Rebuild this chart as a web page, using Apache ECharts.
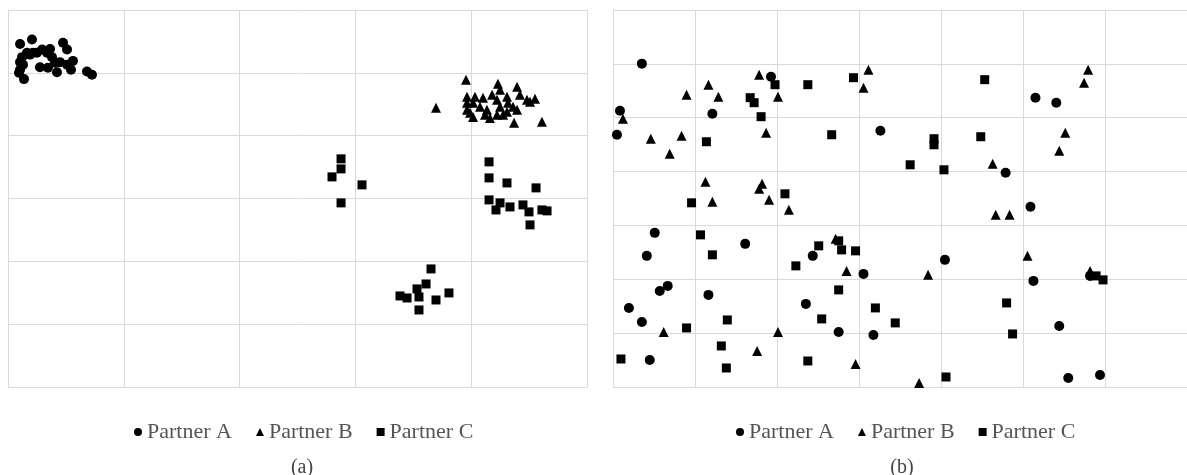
<!DOCTYPE html>
<html>
<head>
<meta charset="utf-8">
<script src="https://cdn.jsdelivr.net/npm/echarts@6/dist/echarts.min.js"></script>
<style>
  html, body { margin: 0; padding: 0; background: #fff; }
  #chart { width: 1187px; height: 475px; }
</style>
</head>
<body>
<div id="chart"></div>
<script>
// panel (a) - clustered partners
var aPartnerA = [
  [0.104,5.46],[0.207,5.53],[0.475,5.48],[0.51,5.37],[0.164,5.32],[0.216,5.32],[0.294,5.37],
  [0.363,5.38],[0.121,5.25],[0.104,5.17],[0.276,5.09],[0.345,5.08],[0.423,5.01],[0.449,5.17],
  [0.51,5.13],[0.561,5.19],[0.544,5.05],[0.104,5.05],[0.095,5.00],[0.138,4.90],[0.682,5.02],
  [0.725,4.97],[0.38,5.25],[0.406,5.16],[0.337,5.32],[0.25,5.32],[0.19,5.29],[0.13,5.13]
];
var aPartnerB = [
  [3.955,4.889],[3.696,4.443],[4.231,4.825],[4.249,4.729],[4.396,4.777],[4.421,4.650],[4.180,4.650],
  [4.102,4.602],[4.033,4.618],[3.964,4.618],[3.964,4.522],[3.964,4.411],[4.016,4.522],[4.076,4.459],
  [4.136,4.411],[4.223,4.570],[4.309,4.618],[4.318,4.522],[4.249,4.459],[4.361,4.459],[4.482,4.570],
  [4.551,4.586],[4.508,4.538],[4.016,4.299],[4.162,4.283],[4.223,4.331],[4.309,4.379],[4.396,4.411],
  [4.370,4.204],[4.611,4.220],[3.990,4.363],[4.119,4.331],[4.275,4.331]
];
var aPartnerC = [
  [2.876,3.631],[2.876,3.471],[2.798,3.344],[3.057,3.217],[2.876,2.930],
  [4.154,3.583],[4.154,3.328],[4.309,3.248],[4.560,3.169],[4.154,2.978],[4.249,2.930],[4.214,2.818],
  [4.335,2.866],[4.447,2.898],[4.499,2.787],[4.611,2.818],[4.655,2.803],[4.508,2.580],
  [3.653,1.879],[3.610,1.640],[3.532,1.561],[3.385,1.449],[3.446,1.417],[3.549,1.433],[3.696,1.385],
  [3.808,1.497],[3.549,1.226]
];

// panel (b) - scattered partners
var bPartnerA = [
  [0.352,6.004],[0.085,5.130],[0.048,4.684],[1.212,5.074],[1.927,5.762],[3.261,4.758],[5.152,5.372],
  [5.406,5.279],[4.788,3.978],[0.509,2.862],[1.612,2.658],[0.412,2.435],[2.436,2.435],[3.055,2.100],
  [0.667,1.877],[0.570,1.784],[1.164,1.710],[0.194,1.468],[0.352,1.208],[2.352,1.543],[2.752,1.022],
  [3.176,0.967],[0.448,0.502],[5.091,3.346],[4.048,2.361],[5.127,1.970],[5.818,2.063],[5.442,1.134],
  [5.552,0.167],[5.939,0.223]
];
var bPartnerB = [
  [0.121,4.981],[0.461,4.610],[0.836,4.665],[0.691,4.331],[0.897,5.428],[1.164,5.613],[1.285,5.390],
  [1.782,5.799],[2.012,5.390],[1.867,4.721],[3.115,5.892],[3.055,5.558],[1.127,3.810],[1.818,3.773],
  [1.782,3.680],[5.794,5.892],[5.745,5.651],[5.515,4.721],[5.442,4.387],[4.630,4.145],[1.212,3.439],
  [1.903,3.476],[2.145,3.290],[2.715,2.751],[2.848,2.156],[0.618,1.022],[2.012,1.022],[1.758,0.669],
  [2.958,0.428],[4.667,3.197],[4.836,3.197],[3.842,2.082],[5.055,2.435],[5.818,2.156],[3.733,0.074]
];
var bPartnerC = [
  [1.139,4.554],[1.976,5.613],[1.673,5.372],[1.721,5.279],[1.806,5.019],[2.376,5.613],[2.667,4.684],
  [2.933,5.743],[2.097,3.587],[4.533,5.706],[3.915,4.610],[3.915,4.498],[4.485,4.647],[3.624,4.126],
  [4.036,4.033],[0.958,3.420],[1.067,2.825],[1.212,2.454],[2.230,2.249],[2.509,2.621],[2.752,2.714],
  [2.788,2.546],[2.958,2.528],[1.394,1.245],[0.897,1.097],[2.545,1.264],[2.752,1.803],[3.200,1.468],
  [1.321,0.762],[0.097,0.520],[1.382,0.353],[2.376,0.483],[5.891,2.063],[5.976,1.989],[4.800,1.561],
  [3.442,1.190],[4.873,0.985],[4.061,0.186]
];

var partnerNames = ['Partner A', 'Partner B', 'Partner C'];
var panelLabels = ['(a)', '(b)'];

var gridColor = '#d9d9d9';
var serif = '"Liberation Serif", "DejaVu Serif", serif';

function makeAxis(gridIndex, max) {
  return {
    type: 'value', gridIndex: gridIndex, min: 0, max: max, interval: 1,
    axisLine: { show: true, lineStyle: { color: gridColor } },
    axisTick: { show: false },
    axisLabel: { show: false },
    splitLine: { show: true, lineStyle: { color: gridColor, width: 1 } }
  };
}

function makeSeries(name, data, idx, symbol, size) {
  return {
    name: name, type: 'scatter', xAxisIndex: idx, yAxisIndex: idx,
    data: data, symbol: symbol, symbolSize: size,
    itemStyle: { color: '#000', opacity: 1 }, silent: true
  };
}

var chart = echarts.init(document.getElementById('chart'));
var legendText = { fontFamily: serif, fontSize: 22, color: '#555' };
var option = {
  animation: false,
  backgroundColor: '#fff',
  title: [
    { text: panelLabels[0], left: 297, top: 453, textAlign: 'center',
      textStyle: { fontFamily: serif, fontWeight: 'normal', fontSize: 20, color: '#444' } },
    { text: panelLabels[1], left: 897, top: 453, textAlign: 'center',
      textStyle: { fontFamily: serif, fontWeight: 'normal', fontSize: 20, color: '#444' } }
  ],
  legend: [
    { data: partnerNames, left: 129, top: 416, itemWidth: 8, itemHeight: 8, itemGap: 24,
      textStyle: legendText },
    { data: partnerNames, left: 731, top: 416, itemWidth: 8, itemHeight: 8, itemGap: 24,
      textStyle: legendText }
  ],
  grid: [
    { left: 8, top: 10, width: 579, height: 377 },
    { left: 613, top: 10, width: 578, height: 377 }
  ],
  xAxis: [makeAxis(0, 5), makeAxis(1, 7)],
  yAxis: [makeAxis(0, 6), makeAxis(1, 7)],
  series: [
    makeSeries('Partner A', aPartnerA, 0, 'circle', 10),
    makeSeries('Partner B', aPartnerB, 0, 'triangle', 10),
    makeSeries('Partner C', aPartnerC, 0, 'rect', 9),
    makeSeries('Partner A', bPartnerA, 1, 'circle', 10),
    makeSeries('Partner B', bPartnerB, 1, 'triangle', 10),
    makeSeries('Partner C', bPartnerC, 1, 'rect', 9)
  ]
};
chart.setOption(option);
</script>
</body>
</html>
